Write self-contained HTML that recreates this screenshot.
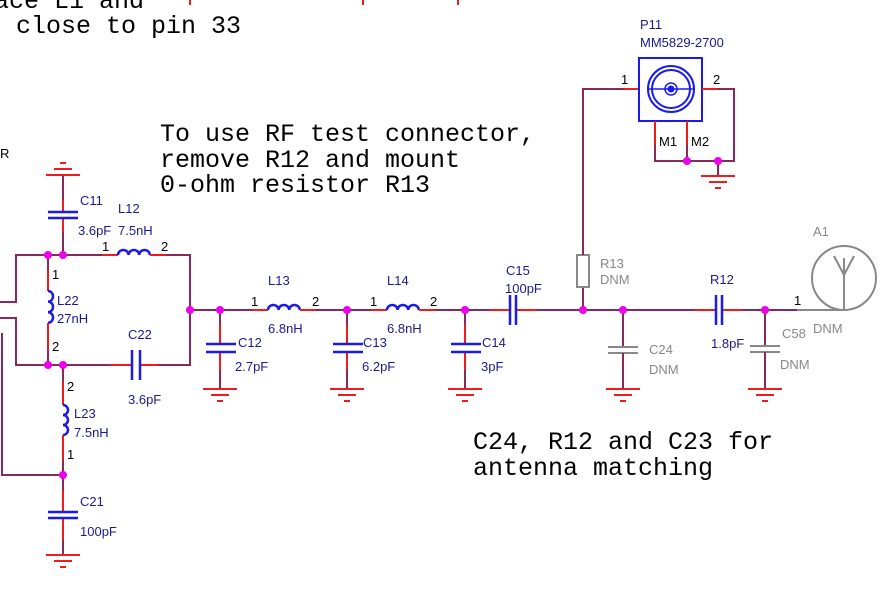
<!DOCTYPE html>
<html><head><meta charset="utf-8"><style>
html,body{margin:0;padding:0;background:#fff;}
svg{display:block;}
.w{stroke:#862a5c;stroke-width:2;fill:none;}
.r{stroke:#ee1c1c;stroke-width:2;fill:none;}
.b{stroke:#1a1aee;stroke-width:2.5;fill:none;}
.g{stroke:#888;stroke-width:2;fill:none;}
.d{fill:#ee00ee;}
text{font-family:"Liberation Sans",Arial,sans-serif;font-size:13px;fill:#1a1a8c;}
.k{fill:#000;}
.gy{fill:#888;}
.m{font-family:"Liberation Mono","Courier New",monospace;font-size:25px;fill:#000;}
</style></head><body>
<svg width="891" height="592" viewBox="0 0 891 592" xmlns="http://www.w3.org/2000/svg">
<defs>
<g id="gnd"><line class="r" x1="-17" y1="0" x2="17" y2="0"/><line class="r" x1="-9" y1="6" x2="9" y2="6"/><line class="r" x1="-3" y1="12" x2="3" y2="12"/></g>
</defs>
<!-- top texts -->
<text class="m" x="-6" y="8">ace L1 and</text>
<text class="m" x="16" y="33">close to pin 33</text>
<line class="r" x1="190" y1="0" x2="190" y2="5"/><line class="r" x1="363" y1="0" x2="363" y2="5"/><line class="r" x1="458" y1="0" x2="458" y2="5"/>
<text class="k" x="0" y="158">R</text>
<text class="m" x="160" y="141">To use RF test connector,</text>
<text class="m" x="160" y="167">remove R12 and mount</text>
<text class="m" x="160" y="192">0-ohm resistor R13</text>
<text class="m" x="473" y="449">C24, R12 and C23 for</text>
<text class="m" x="473" y="475">antenna matching</text>

<!-- left block wires -->
<polyline class="w" points="0,302 16,302 16,255 103,255"/>
<line class="r" x1="103" y1="255" x2="118" y2="255"/>
<path class="b" d="M118,255 a5.3,5 0 0 1 10.6,0 a5.3,5 0 0 1 10.6,0 a5.3,5 0 0 1 10.6,0"/>
<line class="r" x1="150" y1="255" x2="166" y2="255"/>
<polyline class="w" points="166,255 190,255 190,365 156,365"/>
<polyline class="w" points="0,318 16,318 16,365 110,365"/>
<line class="r" x1="110" y1="365" x2="132" y2="365"/><line class="r" x1="140" y1="365" x2="158" y2="365"/>
<line class="b" x1="132" y1="350" x2="132" y2="380"/><line class="b" x1="140" y1="350" x2="140" y2="380"/>
<line class="w" x1="2" y1="333" x2="2" y2="476"/><line class="w" x1="2" y1="475" x2="63" y2="475"/>
<!-- C11 -->
<line class="w" x1="63" y1="175" x2="63" y2="200"/><line class="r" x1="63" y1="200" x2="63" y2="212"/><line class="r" x1="63" y1="218" x2="63" y2="232"/><line class="w" x1="63" y1="232" x2="63" y2="255"/>
<line class="b" x1="48" y1="212" x2="78" y2="212"/><line class="b" x1="48" y1="218" x2="78" y2="218"/>
<use href="#gnd" transform="translate(63,175) scale(1,-1)"/>
<!-- L22 -->
<line class="w" x1="48" y1="255" x2="48" y2="270"/><line class="r" x1="48" y1="270" x2="48" y2="291"/>
<path class="b" d="M48,291 a5,5.3 0 0 1 0,10.6 a5,5.3 0 0 1 0,10.6 a5,5.3 0 0 1 0,10.6"/>
<line class="r" x1="48" y1="323" x2="48" y2="350"/><line class="w" x1="48" y1="350" x2="48" y2="365"/>
<!-- L23 -->
<line class="w" x1="63" y1="365" x2="63" y2="382"/><line class="r" x1="63" y1="382" x2="63" y2="405"/>
<path class="b" d="M63,405 a5,5 0 0 1 0,10 a5,5 0 0 1 0,10 a5,5 0 0 1 0,10"/>
<line class="r" x1="63" y1="435" x2="63" y2="460"/><line class="w" x1="63" y1="460" x2="63" y2="475"/>
<!-- C21 -->
<line class="w" x1="63" y1="475" x2="63" y2="490"/><line class="r" x1="63" y1="490" x2="63" y2="512"/><line class="r" x1="63" y1="518" x2="63" y2="540"/><line class="w" x1="63" y1="540" x2="63" y2="555"/>
<line class="b" x1="48" y1="512" x2="78" y2="512"/><line class="b" x1="48" y1="518" x2="78" y2="518"/>
<use href="#gnd" transform="translate(63,555)"/>

<!-- main line -->
<line class="w" x1="190" y1="310" x2="252" y2="310"/><line class="r" x1="252" y1="310" x2="268" y2="310"/>
<path class="b" d="M268,310 a5.3,5 0 0 1 10.6,0 a5.3,5 0 0 1 10.6,0 a5.3,5 0 0 1 10.6,0"/>
<line class="r" x1="300" y1="310" x2="316" y2="310"/><line class="w" x1="316" y1="310" x2="371" y2="310"/>
<line class="r" x1="371" y1="310" x2="387" y2="310"/>
<path class="b" d="M387,310 a5.3,5 0 0 1 10.6,0 a5.3,5 0 0 1 10.6,0 a5.3,5 0 0 1 10.6,0"/>
<line class="r" x1="419" y1="310" x2="435" y2="310"/><line class="w" x1="435" y1="310" x2="490" y2="310"/>
<line class="r" x1="490" y1="310" x2="510" y2="310"/><line class="r" x1="516" y1="310" x2="537" y2="310"/>
<line class="b" x1="510" y1="295" x2="510" y2="325"/><line class="b" x1="516" y1="295" x2="516" y2="325"/>
<line class="w" x1="537" y1="310" x2="694" y2="310"/>
<line class="r" x1="694" y1="310" x2="716" y2="310"/><line class="r" x1="722" y1="310" x2="742" y2="310"/>
<line class="b" x1="716" y1="295" x2="716" y2="325"/><line class="b" x1="722" y1="295" x2="722" y2="325"/>
<line class="w" x1="742" y1="310" x2="797" y2="310"/><line class="g" x1="797" y1="310" x2="844" y2="310"/>

<!-- shunt caps -->
<g>
<line class="w" x1="220" y1="310" x2="220" y2="325"/><line class="r" x1="220" y1="325" x2="220" y2="344"/><line class="r" x1="220" y1="352" x2="220" y2="370"/><line class="w" x1="220" y1="370" x2="220" y2="389"/>
<line class="b" x1="206" y1="344" x2="236" y2="344"/><line class="b" x1="206" y1="352" x2="236" y2="352"/><use href="#gnd" transform="translate(220,389)"/>
</g>
<g transform="translate(127,0)">
<line class="w" x1="220" y1="310" x2="220" y2="325"/><line class="r" x1="220" y1="325" x2="220" y2="344"/><line class="r" x1="220" y1="352" x2="220" y2="370"/><line class="w" x1="220" y1="370" x2="220" y2="389"/>
<line class="b" x1="206" y1="344" x2="236" y2="344"/><line class="b" x1="206" y1="352" x2="236" y2="352"/><use href="#gnd" transform="translate(220,389)"/>
</g>
<g transform="translate(245,0)">
<line class="w" x1="220" y1="310" x2="220" y2="325"/><line class="r" x1="220" y1="325" x2="220" y2="344"/><line class="r" x1="220" y1="352" x2="220" y2="370"/><line class="w" x1="220" y1="370" x2="220" y2="389"/>
<line class="b" x1="206" y1="344" x2="236" y2="344"/><line class="b" x1="206" y1="352" x2="236" y2="352"/><use href="#gnd" transform="translate(220,389)"/>
</g>
<!-- C24 gray -->
<line class="w" x1="623" y1="310" x2="623" y2="347"/><line class="g" x1="608" y1="347" x2="638" y2="347"/><line class="g" x1="608" y1="353" x2="638" y2="353"/><line class="w" x1="623" y1="353" x2="623" y2="389"/><use href="#gnd" transform="translate(623,389)"/>
<!-- C58 gray -->
<line class="w" x1="765" y1="310" x2="765" y2="346"/><line class="g" x1="750" y1="346" x2="780" y2="346"/><line class="g" x1="750" y1="352" x2="780" y2="352"/><line class="w" x1="765" y1="352" x2="765" y2="389"/><use href="#gnd" transform="translate(765,389)"/>
<!-- R13 -->
<polyline class="w" points="583,310 583,287"/><rect class="g" x="577" y="255" width="12" height="32"/><polyline class="w" points="583,255 583,89 623,89"/>
<line class="r" x1="623" y1="89" x2="639" y2="89"/>
<!-- P11 -->
<rect x="639" y="58" width="63" height="63" fill="none" stroke="#1a1aee" stroke-width="2"/>
<circle cx="671" cy="89" r="23" fill="none" stroke="#1a1aee" stroke-width="2"/>
<circle cx="671" cy="89" r="19" fill="none" stroke="#1a1aee" stroke-width="2"/>
<circle cx="671" cy="89" r="6" fill="none" stroke="#1a1aee" stroke-width="1.5"/>
<circle cx="671" cy="89" r="3.5" fill="#1a1aee"/>
<line x1="648" y1="89" x2="694" y2="89" stroke="#1a1aee" stroke-width="1.5"/>
<line class="r" x1="702" y1="89" x2="718" y2="89"/><polyline class="w" points="718,89 734,89 734,161 655,161 655,145"/>
<line class="r" x1="655" y1="121" x2="655" y2="145"/><line class="r" x1="687" y1="121" x2="687" y2="145"/><line class="w" x1="687" y1="145" x2="687" y2="161"/>
<line class="w" x1="718" y1="161" x2="718" y2="175"/><use href="#gnd" transform="translate(718,176)"/>
<!-- antenna -->
<circle cx="844" cy="278" r="32" fill="none" stroke="#888" stroke-width="2"/>
<polyline class="g" points="834,256 844,275 854,256"/><line class="g" x1="844" y1="258" x2="844" y2="310"/>

<!-- dots -->
<g class="d">
<circle cx="48" cy="255" r="4"/><circle cx="63" cy="255" r="4"/><circle cx="48" cy="365" r="4"/><circle cx="63" cy="365" r="4"/><circle cx="63" cy="475" r="4"/>
<circle cx="190" cy="310" r="4"/><circle cx="220" cy="310" r="4"/><circle cx="347" cy="310" r="4"/><circle cx="465" cy="310" r="4"/>
<circle cx="583" cy="310" r="4"/><circle cx="623" cy="310" r="4"/><circle cx="765" cy="310" r="4"/>
<circle cx="687" cy="161" r="4"/><circle cx="718" cy="161" r="4"/>
</g>

<!-- labels -->
<text x="80" y="205">C11</text><text x="78" y="235">3.6pF</text>
<text x="118" y="213">L12</text><text x="118" y="235">7.5nH</text>
<text class="k" x="102" y="251">1</text><text class="k" x="161" y="251">2</text>
<text class="k" x="52" y="279">1</text><text x="57" y="305">L22</text><text x="57" y="323">27nH</text><text class="k" x="52" y="351">2</text>
<text x="128" y="339">C22</text><text x="128" y="404">3.6pF</text>
<text class="k" x="67" y="391">2</text><text x="74" y="418">L23</text><text x="74" y="437">7.5nH</text><text class="k" x="67" y="459">1</text>
<text x="80" y="506">C21</text><text x="80" y="536">100pF</text>
<text x="268" y="285">L13</text><text class="k" x="251" y="306">1</text><text class="k" x="312" y="306">2</text><text x="268" y="333">6.8nH</text>
<text x="387" y="285">L14</text><text class="k" x="370" y="306">1</text><text class="k" x="430" y="306">2</text><text x="387" y="333">6.8nH</text>
<text x="506" y="275">C15</text><text x="505" y="293">100pF</text>
<text x="238" y="347">C12</text><text x="235" y="371">2.7pF</text>
<text x="363" y="347">C13</text><text x="362" y="371">6.2pF</text>
<text x="482" y="347">C14</text><text x="481" y="371">3pF</text>
<text class="gy" x="600" y="268">R13</text><text class="gy" x="600" y="284">DNM</text>
<text class="gy" x="649" y="354">C24</text><text class="gy" x="649" y="374">DNM</text>
<text x="710" y="284">R12</text><text x="711" y="348">1.8pF</text>
<text class="gy" x="782" y="338">C58</text><text class="gy" x="780" y="369">DNM</text>
<text class="gy" x="813" y="236">A1</text><text class="gy" x="813" y="333">DNM</text><text class="k" x="794" y="305">1</text>
<text x="640" y="29">P11</text><text x="640" y="47">MM5829-2700</text>
<text class="k" x="621" y="84">1</text><text class="k" x="713" y="84">2</text>
<text class="k" x="659" y="146">M1</text><text class="k" x="691" y="146">M2</text>
</svg>
</body></html>
